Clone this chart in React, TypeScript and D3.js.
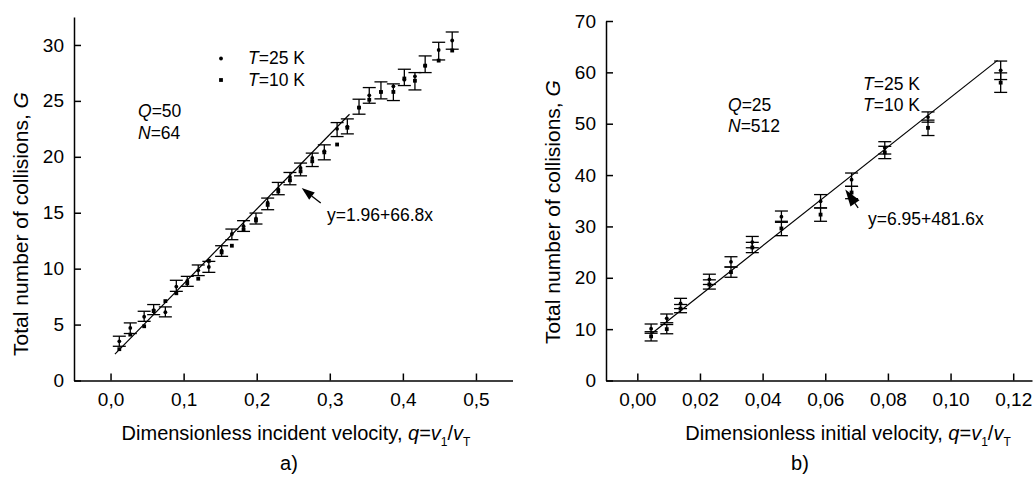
import React, { useEffect, useRef } from 'react';
import * as d3 from 'd3';

const FONT = '"Liberation Sans", Arial, Helvetica, sans-serif';

// ---- panel a) Q=50, N=64
const qA = [0.012, 0.027, 0.046, 0.059, 0.075, 0.09, 0.105, 0.12, 0.1345, 0.152, 0.166, 0.182, 0.199, 0.215, 0.2295,
  0.2455, 0.26, 0.276, 0.2925, 0.31, 0.324, 0.34, 0.354, 0.37, 0.387, 0.402, 0.4165, 0.4305, 0.449, 0.4675];
const g25A = [3.5, 4.7, 5.7, 6.3, 6.1, 8.4, 8.9, 9.85, 10.15, 11.6, 13.1, 13.8, 14.5, 15.9, 17.1,
  18.2, 19.0, 19.9, 20.5, 22.5, 22.7, 24.4, 25.5, 25.8, 26.3, 26.9, 27.2, 28.15, 29.55, 30.4];
const g10A = [2.8, 4.1, 4.85, 6.2, 7.1, 7.8, 8.7, 9.1, 10.7, 11.45, 12.05, 13.5, 14.3, 15.7, 16.9,
  17.9, 18.7, 19.6, 20.4, 21.1, 22.6, 24.4, 25.1, 25.8, 25.8, 27.0, 26.8, 28.15, 28.6, 29.5];
const barHiA = [3.96, 5.15, 6.19, 6.79, 6.58, 8.96, 9.31, 10.33, 10.65, 12.05, 13.54, 14.29, 14.97, 16.31, 17.71,
  18.6, 19.44, 20.33, 21.07, 23.06, 23.39, 25.15, 26.19, 26.7, 26.52, 27.83, 27.53, 29.02, 30.24, 31.16];
const barLoA = [3.06, 4.2, 5.29, 5.89, 5.69, 7.97, 8.42, 9.38, 9.67, 11.1, 12.59, 13.33, 13.99, 15.27, 16.61,
  17.5, 18.3, 19.13, 19.73, 21.81, 22.05, 23.81, 24.79, 25.18, 25.03, 26.37, 25.98, 27.53, 28.66, 29.62];
const fitA = [1.96, 66.8];
const fitRangeA = [0.006, 0.327];
const xTicksA = [0, 0.1, 0.2, 0.3, 0.4, 0.5];
const yTicksA = [0, 5, 10, 15, 20, 25, 30];

// ---- panel b) Q=25, N=512
const qB = [0.0044, 0.0094, 0.0138, 0.023, 0.0299, 0.0367, 0.046, 0.0585, 0.0684, 0.079, 0.0928, 0.116];
const g25B = [10.1, 12.1, 15.0, 19.7, 23.1, 26.95, 31.9, 34.9, 39.1, 45.3, 51.3, 60.4];
const g10B = [8.6, 10.0, 14.0, 18.7, 21.1, 25.9, 29.6, 32.3, 36.6, 44.4, 49.2, 58.0];
const err25B = [0.9, 0.85, 1.0, 1.0, 1.0, 1.1, 1.1, 1.3, 1.3, 1.2, 1.0, 1.8];
const err10B = [0.9, 0.9, 0.8, 0.9, 1.0, 1.0, 1.4, 1.3, 1.2, 1.2, 1.5, 1.9];
const fitB = [6.95, 481.6];
const fitRangeB = [0.0044, 0.115];
const xTicksB = [0, 0.02, 0.04, 0.06, 0.08, 0.1, 0.12];
const yTicksB = [0, 10, 20, 30, 40, 50, 60, 70];

type Part = [string, 'n' | 'i' | 's'];

function rich(g: any, x: number, y: number, parts: Part[], size: number, anchor = 'start', rotate = 0) {
  const t = g.append('text')
    .attr('x', x).attr('y', y)
    .attr('font-family', FONT).attr('font-size', size)
    .attr('text-anchor', anchor).attr('fill', '#000');
  if (rotate) t.attr('transform', `rotate(${rotate},${x},${y})`);
  let shifted = false;
  parts.forEach(([s, k]) => {
    const sp = t.append('tspan').text(s);
    if (k === 'i') sp.attr('font-style', 'italic');
    if (k === 's') {
      sp.attr('font-size', size * 0.6).attr('dy', size * 0.3);
      shifted = true;
    } else if (shifted) {
      sp.attr('dy', -size * 0.3);
      shifted = false;
    }
  });
  return t;
}

function arrow(g: any, tip: number[], tail: number[], head: number, width: number) {
  const dx = tail[0] - tip[0], dy = tail[1] - tip[1];
  const len = Math.hypot(dx, dy);
  const ux = dx / len, uy = dy / len;
  const bx = tip[0] + ux * head, by = tip[1] + uy * head;
  g.append('line').attr('x1', tail[0]).attr('y1', tail[1]).attr('x2', bx).attr('y2', by)
    .attr('stroke', '#000').attr('stroke-width', 1.3);
  g.append('path')
    .attr('d', `M${tip[0]},${tip[1]}L${bx - uy * width / 2},${by + ux * width / 2}L${bx + uy * width / 2},${by - ux * width / 2}Z`)
    .attr('fill', '#000');
}

function drawAxes(g: any, x: any, y: any, xTicks: number[], yTicks: number[], xFmt: (v: number) => string) {
  const y0 = y.range()[0];
  const x0 = x.range()[0];
  const gx = g.append('g').attr('transform', `translate(0,${y0})`)
    .call(d3.axisBottom(x).tickValues(xTicks).tickFormat(xFmt as any).tickSizeInner(-7).tickSizeOuter(0).tickPadding(12));
  const gy = g.append('g').attr('transform', `translate(${x0},0)`)
    .call(d3.axisLeft(y).tickValues(yTicks).tickFormat(d3.format('d') as any).tickSizeInner(-7).tickSizeOuter(0).tickPadding(10));
  [gx, gy].forEach(a => {
    a.selectAll('path, line').attr('stroke', '#000').attr('stroke-width', 1.5);
    a.selectAll('text').attr('font-size', 19).attr('font-family', FONT).attr('fill', '#000');
  });
}

function drawFit(g: any, x: any, y: any, fit: number[], range: number[]) {
  const line = d3.line<number>().x(q => x(q)).y(q => y(fit[0] + fit[1] * q));
  g.append('path').datum(range).attr('d', line).attr('fill', 'none').attr('stroke', '#000').attr('stroke-width', 1.2);
}

function drawBars(g: any, x: any, y: any, qs: number[], lo: number[], hi: number[], cap: number) {
  qs.forEach((q, i) => {
    const cx = x(q);
    g.append('line').attr('x1', cx).attr('x2', cx).attr('y1', y(lo[i])).attr('y2', y(hi[i]))
      .attr('stroke', '#000').attr('stroke-width', 1.3);
    [lo[i], hi[i]].forEach(v => {
      g.append('line').attr('x1', cx - cap / 2).attr('x2', cx + cap / 2).attr('y1', y(v)).attr('y2', y(v))
        .attr('stroke', '#000').attr('stroke-width', 1.3);
    });
  });
}

function drawMarks(g: any, x: any, y: any, qs: number[], g25: number[], g10: number[]) {
  g.selectAll(null).data(qs).enter().append('circle')
    .attr('cx', (q: number) => x(q)).attr('cy', (_: number, i: number) => y(g25[i])).attr('r', 1.9).attr('fill', '#000');
  g.selectAll(null).data(qs).enter().append('rect')
    .attr('x', (q: number) => x(q) - 1.9).attr('y', (_: number, i: number) => y(g10[i]) - 1.9)
    .attr('width', 3.8).attr('height', 3.8).attr('fill', '#000');
}

const fmt1 = (v: number) => d3.format('.1f')(v).replace('.', ',');
const fmt2 = (v: number) => d3.format('.2f')(v).replace('.', ',');

export default function App() {
  const ref = useRef<SVGSVGElement>(null);

  useEffect(() => {
    const svg = d3.select(ref.current);
    svg.selectAll('*').remove();

    // panel a
    const gA = svg.append('g');
    const xA = d3.scaleLinear().domain([-0.05, 0.55]).range([74, 512.5]);
    const yA = d3.scaleLinear().domain([0, 32.5]).range([380.5, 17]);
    drawAxes(gA, xA, yA, xTicksA, yTicksA, fmt1);
    drawFit(gA, xA, yA, fitA, fitRangeA);
    drawBars(gA, xA, yA, qA, barLoA, barHiA, 13);
    drawMarks(gA, xA, yA, qA, g25A, g10A);
    arrow(gA, [xA(0.2616), yA(17.2)], [xA(0.2876), yA(15.87)], 13, 9);
    rich(gA, 327, 221, [['y=1.96+66.8x', 'n']], 17.5);
    gA.append('circle').attr('cx', 221).attr('cy', 58.5).attr('r', 1.9).attr('fill', '#000');
    gA.append('rect').attr('x', 219.1).attr('y', 78.1).attr('width', 3.8).attr('height', 3.8).attr('fill', '#000');
    rich(gA, 248, 64, [['T', 'i'], ['=25 K', 'n']], 17.5);
    rich(gA, 248, 86, [['T', 'i'], ['=10 K', 'n']], 17.5);
    rich(gA, 138, 117, [['Q', 'i'], ['=50', 'n']], 17.5);
    rich(gA, 138, 139, [['N', 'i'], ['=64', 'n']], 17.5);
    rich(gA, 28, 224, [['Total number of collisions,  ', 'n'], ['G', 'i']], 21, 'middle', -90);
    rich(gA, 296, 440, [['Dimensionless incident velocity, ', 'n'], ['q', 'i'], ['=', 'n'], ['v', 'i'], ['1', 's'], ['/', 'n'], ['v', 'i'], ['T', 's']], 20, 'middle');
    rich(gA, 289, 470, [['a)', 'n']], 20, 'middle');

    // panel b
    const gB = svg.append('g');
    const xB = d3.scaleLinear().domain([-0.01, 0.126]).range([606, 1032]);
    const yB = d3.scaleLinear().domain([0, 70]).range([380.5, 21]);
    drawAxes(gB, xB, yB, xTicksB, yTicksB, fmt2);
    drawFit(gB, xB, yB, fitB, fitRangeB);
    drawBars(gB, xB, yB, qB, g25B.map((v, i) => v - err25B[i]), g25B.map((v, i) => v + err25B[i]), 13);
    drawBars(gB, xB, yB, qB, g10B.map((v, i) => v - err10B[i]), g10B.map((v, i) => v + err10B[i]), 13);
    drawMarks(gB, xB, yB, qB, g25B, g10B);
    arrow(gB, [xB(0.0664), yB(37.2)], [xB(0.0705), yB(33.6)], 17, 11);
    rich(gB, 868, 225, [['y=6.95+481.6x', 'n']], 17.5);
    rich(gB, 863, 90, [['T', 'i'], ['=25 K', 'n']], 17.5);
    rich(gB, 863, 111, [['T', 'i'], ['=10 K', 'n']], 17.5);
    rich(gB, 728, 111, [['Q', 'i'], ['=25', 'n']], 17.5);
    rich(gB, 728, 132, [['N', 'i'], ['=512', 'n']], 17.5);
    rich(gB, 560, 212, [['Total number of collisions,  ', 'n'], ['G', 'i']], 21, 'middle', -90);
    rich(gB, 848, 440, [['Dimensionless initial velocity, ', 'n'], ['q', 'i'], ['=', 'n'], ['v', 'i'], ['1', 's'], ['/', 'n'], ['v', 'i'], ['T', 's']], 20, 'middle');
    rich(gB, 800, 470, [['b)', 'n']], 20, 'middle');
  }, []);

  return (
    <svg ref={ref} width={1036} height={479}
      style={{ position: 'absolute', left: 0, top: 0, background: '#fff', display: 'block' }} />
  );
}
